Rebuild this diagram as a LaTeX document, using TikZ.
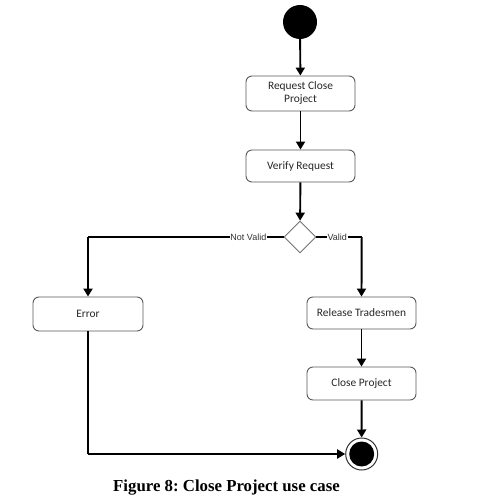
\documentclass[tikz,border=0pt]{standalone}
\usepackage{fontspec}
\setmainfont{Liberation Serif}
\newfontfamily\boxfont{Carlito}
\newfontfamily\lblfont{Liberation Sans}
\usetikzlibrary{shapes.geometric,arrows.meta}
\frenchspacing
\begin{document}
\begin{tikzpicture}[x=1pt,y=1pt,
  act/.style={draw=black!65, line width=0.9pt, rounded corners=6pt, minimum width=109pt, inner sep=1pt, align=center, font=\boxfont\fontsize{11.4}{13}\selectfont, text=black!85},
  conn/.style={line width=1.9pt, -{Triangle[length=8pt,width=9pt]}},
  seg/.style={line width=1.9pt},
  lbl/.style={fill=white, inner sep=0.6pt, font=\lblfont\fontsize{9}{10}\selectfont, text=black!80}]
\useasboundingbox (0,0) rectangle (484,-500);
\node[circle, fill=black, minimum size=34pt, inner sep=0pt] (start) at (300,-22) {};
\node[act, minimum height=35pt] (req) at (300.5,-93.5) {Request Close\\Project};
\node[act, minimum height=32pt] (ver) at (300.5,-166) {Verify Request};
\node[diamond, draw=black!55, line width=0.9pt, minimum width=32pt, minimum height=32pt, inner sep=0pt] (dia) at (300,-237) {};
\node[act, minimum height=34pt, minimum width=110pt] (err) at (88,-314) {Error};
\node[act, minimum height=32pt] (rel) at (361.5,-313) {Release Tradesmen};
\node[act, minimum height=33pt] (close) at (361.5,-383.5) {Close Project};
\node[circle, draw=black!80, line width=1pt, fill=white, minimum size=32pt, inner sep=0pt] (end) at (361.7,-454) {};
\node[circle, fill=black, minimum size=25pt, inner sep=0pt] (endin) at (end.center) {};
\coordinate (nvc) at (88,-237);
\coordinate (vc) at (361.7,-237);
\coordinate (ec) at (88,-454);
\draw[conn] (start) -- (req);
\draw[conn] (req) -- (ver);
\draw[conn] (ver) -- (dia);
\draw[seg] (dia.west) -- node[lbl, pos=0.18] {Not Valid} (nvc);
\draw[conn] (nvc) -- (err.north);
\draw[seg] (dia.east) -- node[lbl, pos=0.46] {Valid} (vc);
\draw[conn] (vc) -- (rel.north);
\draw[conn] (rel) -- (close);
\draw[conn] (close) -- (end);
\draw[seg] (err.south) -- (ec);
\draw[conn] (ec) -- (end.west);
\node[font=\bfseries\fontsize{16.8}{19}\selectfont] (cap) at (226.5,-488) {Figure 8: Close Project use case};
\end{tikzpicture}
\end{document}
